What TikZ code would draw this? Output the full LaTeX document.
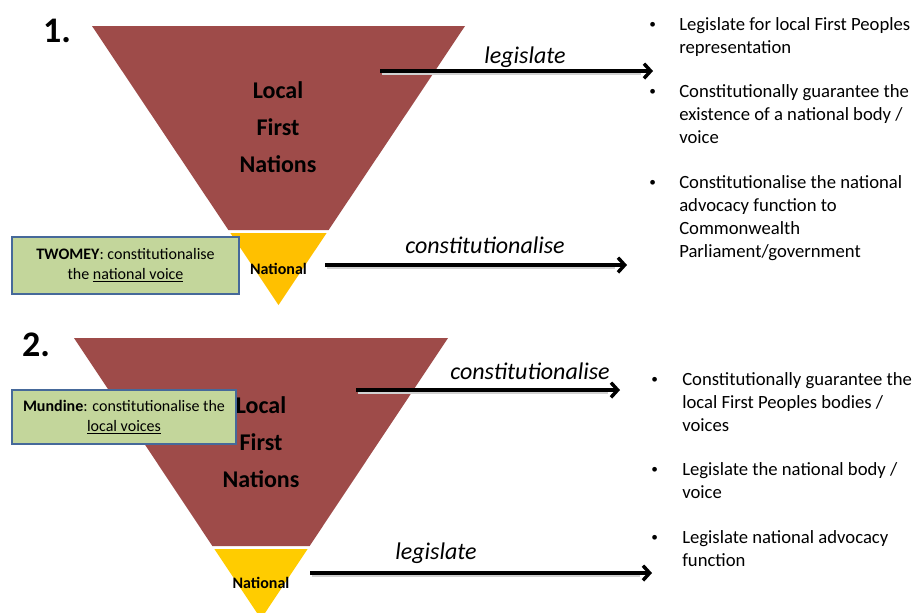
\documentclass[tikz,border=0pt]{standalone}
\usepackage{fontspec}
\setmainfont{Carlito}
\usetikzlibrary{arrows.meta}
\definecolor{redtri}{HTML}{9E4B49}
\definecolor{yelA}{HTML}{FFC000}
\definecolor{yelB}{HTML}{FFCC00}
\definecolor{boxfill}{HTML}{C3D69B}
\definecolor{boxdraw}{HTML}{46699A}
\newcommand{\bulitem}[2]{\makebox[#1][l]{\raisebox{1.3pt}{\fontsize{10}{12}\selectfont •}}\begin{tabular}[t]{@{}l@{}}#2\end{tabular}}
\tikzset{
  arr/.style={line width=2.6pt, -{Straight Barb[length=5pt,width=11pt]}},
  arrshadow/.style={line width=2.6pt, draw=black!18},
  lbl/.style={font=\fontsize{18}{22}\selectfont\itshape, inner sep=0pt},
  bul/.style={font=\fontsize{14}{17.25}\selectfont, inner sep=0pt, anchor=north west, align=left},
  numlbl/.style={font=\fontsize{27}{30}\selectfont\bfseries, inner sep=0pt},
  bigtxt/.style={font=\fontsize{18}{27.75}\selectfont\bfseries, align=center, inner sep=0pt},
  nattxt/.style={font=\fontsize{12}{14}\selectfont\bfseries, inner sep=0pt},
  notebox/.style={draw=boxdraw, fill=boxfill, line width=1.6pt, align=center,
     font=\fontsize{12}{15}\selectfont, inner sep=0pt},
}
\begin{document}
\begin{tikzpicture}[x=0.75pt,y=-0.75pt]
\useasboundingbox (0,0) rectangle (915,612);
\clip (0,0) rectangle (915,612);
\fill[white] (0,0) rectangle (915,612);

% ---------- Diagram 1 ----------
\fill[redtri] (92,26) -- (465,26) -- (328.6,230) -- (228.4,230) -- cycle;
\fill[yelA] (230.4,233) -- (326.6,233) -- (278.5,305) -- cycle;
\node[numlbl] (n1) at (57,31) {1.};
\node[bigtxt] (lfn1) at (278,127) {Local\\First\\Nations};
\node[nattxt] (nat1) at (278.5,269) {National};

\coordinate (a1s) at (380,71);
\coordinate (a1e) at (653,71);
\coordinate (a2s) at (325,265);
\coordinate (a2e) at (627,265);
\draw[arrshadow] ([shift={(1.5,2.5)}]a1s) -- ([shift={(-12,2.5)}]a1e);
\draw[arrshadow] ([shift={(1.5,2.5)}]a2s) -- ([shift={(-12,2.5)}]a2e);
\draw[arr] (a1s) -- (a1e);
\draw[arr] (a2s) -- (a2e);
\node[lbl] (l1) at (525,57) {legislate};
\node[lbl] (l2) at (485,245) {constitutionalise};

\node[notebox, minimum width=170.25pt, minimum height=42.75pt] (tw) at (125.5,265.5)
  {\textbf{TWOMEY}: constitutionalise\\the \underline{national voice}};

\node[bul] (b11) at (649,14) {\bulitem{22.5pt}{Legislate for local First Peoples\\representation}};
\node[bul] (b12) at (649,81) {\bulitem{22.5pt}{Constitutionally guarantee the\\existence of a national body /\\voice}};
\node[bul] (b13) at (649,172) {\bulitem{22.5pt}{Constitutionalise the national\\advocacy function to\\Commonwealth\\Parliament/government}};

% ---------- Diagram 2 ----------
\fill[redtri] (74,338) -- (448,338) -- (309.6,546) -- (212.4,546) -- cycle;
\fill[yelB] (214.4,549) -- (307.6,549) -- (261,619) -- cycle;
\node[numlbl] (n2) at (36,345) {2.};
\node[bigtxt] (lfn2) at (261,442) {Local\\First\\Nations};
\node[nattxt] (nat2) at (261,583) {National};

\coordinate (b1s) at (356,390);
\coordinate (b1e) at (620,390);
\coordinate (b2s) at (310,573);
\coordinate (b2e) at (652,573);
\draw[arrshadow] ([shift={(1.5,2.5)}]b1s) -- ([shift={(-12,2.5)}]b1e);
\draw[arrshadow] ([shift={(1.5,2.5)}]b2s) -- ([shift={(-12,2.5)}]b2e);
\draw[arr] (b1s) -- (b1e);
\draw[arr] (b2s) -- (b2e);
\node[lbl] (l3) at (530,371) {constitutionalise};
\node[lbl] (l4) at (436,553) {legislate};

\node[notebox, minimum width=168pt, minimum height=40.5pt] (mu) at (124,417)
  {\textbf{Mundine}: constitutionalise the\\\underline{local voices}};

\node[bul] (b21) at (651,369) {\bulitem{23.25pt}{Constitutionally guarantee the\\local First Peoples bodies /\\voices}};
\node[bul] (b22) at (651,459) {\bulitem{23.25pt}{Legislate the national body /\\voice}};
\node[bul] (b23) at (651,527) {\bulitem{23.25pt}{Legislate national advocacy\\function}};
\end{tikzpicture}
\end{document}
